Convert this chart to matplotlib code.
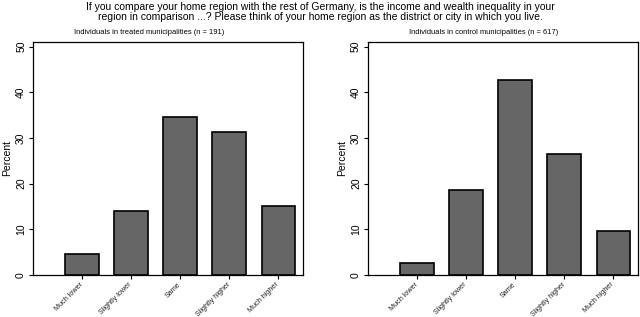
import numpy as np
import matplotlib
matplotlib.use("Agg")
from matplotlib import pyplot as plt

plt.rcParams['font.family'] = ['Liberation Sans', 'DejaVu Sans']

categories = ['Much lower', 'Slightly lower', 'Same', 'Slightly higher', 'Much higher']
treated = [4.7, 14.1, 34.6, 31.4, 15.2]
control = [2.6, 18.6, 42.6, 26.4, 9.7]
titles = ['Individuals in treated municipalities (n = 191)',
          'Individuals in control municipalities (n = 617)']
suptitle = ('If you compare your home region with the rest of Germany, is the income and wealth inequality in your\n'
            'region in comparison ...? Please think of your home region as the district or city in which you live.')

fig = plt.figure(figsize=(6.4, 3.17), dpi=100)
ax1 = fig.add_axes([0.0516, 0.1325, 0.4214, 0.735])
ax2 = fig.add_axes([0.575, 0.1325, 0.4214, 0.735])

x = np.arange(1, len(categories) + 1)
# titles sit a bit left of the axes centre, like in the original
title_x = [0.233, 0.755]
for ax, vals, title, tx in zip([ax1, ax2], [treated, control], titles, title_x):
    ax.bar(x, vals, width=0.68, color='#666666', edgecolor='black', linewidth=1.2)
    ax.set_xlim(0, 5.5)
    ax.set_ylim(0, 51)
    ax.set_yticks([0, 10, 20, 30, 40, 50])
    ax.set_yticklabels(['0', '10', '20', '30', '40', '50'], rotation=90, va='center', fontsize=7.5)
    ax.set_xticks(x)
    ax.set_xticklabels(categories, rotation=45, ha='right', va='center',
                       rotation_mode='anchor', fontsize=5.2, color='#222222')
    ax.tick_params(axis='both', direction='out', length=3, width=0.8, pad=2)
    ax.tick_params(axis='x', pad=3)
    ax.set_ylabel('Percent', fontsize=7.5, labelpad=3)
    fig.text(tx, 0.885, title, fontsize=5.4, ha='center', va='bottom')
    for s in ax.spines.values():
        s.set_linewidth(0.9)

fig.suptitle(suptitle, fontsize=7.5, y=0.995, linespacing=1.0)

plt.savefig('out.png', dpi=100)
